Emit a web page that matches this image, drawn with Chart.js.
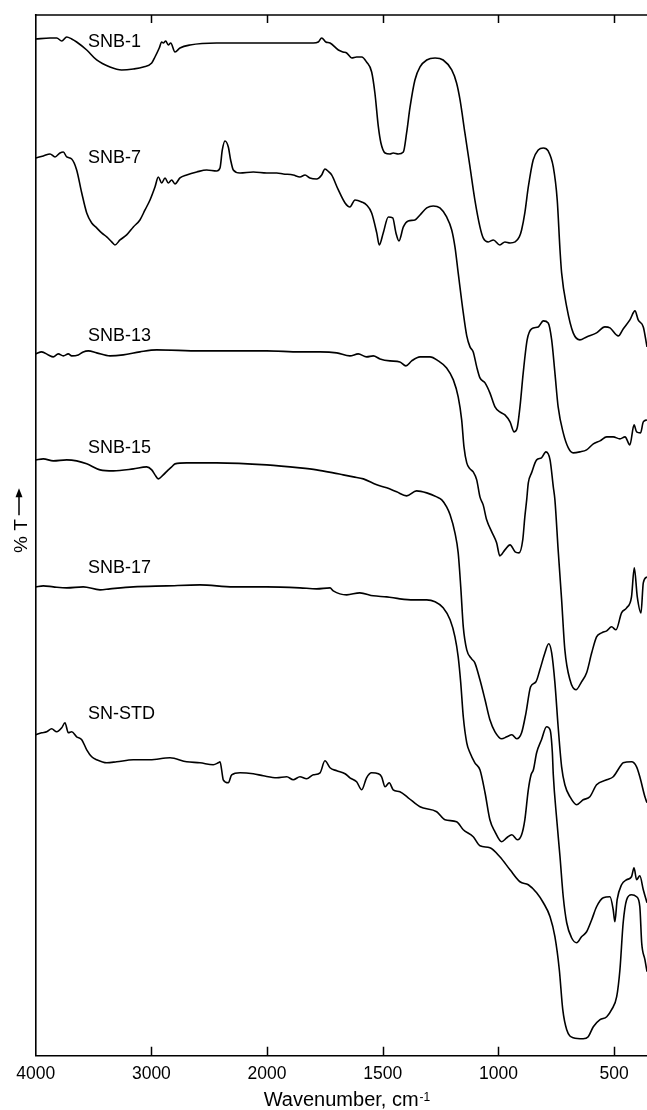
<!DOCTYPE html>
<html>
<head>
<meta charset="utf-8">
<script src="https://cdn.jsdelivr.net/npm/chart.js@4.4.0/dist/chart.umd.min.js"></script>
<style>
html,body{margin:0;padding:0;background:#fff;}
#wrap{width:647px;height:1110px;position:relative;}
</style>
</head>
<body>
<div id="wrap"><canvas id="c" width="647" height="1110"></canvas></div>
<script>
// ---- axis definition (wavenumber, cm-1; scale changes at 2000) ----
const X_START = 4000;
const X_BREAK = 2000;
const X_END = 358;
const X_TICKS = [4000, 3000, 2000, 1500, 1000, 500];
const Y_MIN = 0;
const Y_MAX = 104.1;

const SERIES_NAMES = ['SNB-1', 'SNB-7', 'SNB-13', 'SNB-15', 'SNB-17', 'SN-STD'];
const LABEL_WN = 3548;
const LABEL_T = [100.9, 89.3, 71.5, 60.3, 48.3, 33.7];

// ---- spectra (wavenumber, relative %T with vertical offsets) ----
const SNB1_WN = [4000,3876,3818,3775,3732,3689,3646,3559,3473,3358,3257,3156,3070,2997,2969,2932,2911,2897,2876,2854,2833,2796,2753,2666,2436,2003,1800,1779,1764,1746,1728,1692,1671,1656,1634,1613,1591,1570,1548,1534,1519,1508,1490,1469,1455,1433,1411,1397,1382,1361,1339,1310,1274,1239,1202,1181,1166,1145,1123,1102,1080,1066,1044,1022,994,972,950,928,910,900,886,871,850,828,806,785,763,746,734,727,705,677,648,619,576,540,518,482,461,432,410,396,374,358];
const SNB1_T = [101.7,101.8,101.8,101.5,101.9,101.7,101.4,100.6,99.6,98.9,98.6,98.7,98.9,99.3,99.9,100.8,101.4,101.3,101.5,101.1,101.3,100.4,100.8,101.1,101.3,101.3,101.3,101.4,101.8,101.4,101.3,100.6,100.4,100.3,99.8,99.9,99.9,99.4,98.4,96.3,92.9,91.3,90.3,90.2,90.3,90.2,90.4,92.3,94.9,97.6,98.9,99.6,99.8,99.6,98.6,97.3,95.6,92.3,88.9,85.6,82.9,81.8,81.4,81.6,81.1,81.4,81.3,81.4,81.9,82.6,84.3,86.9,89.6,90.6,90.8,90.5,88.9,85.6,80.6,78.3,74.9,72.3,71.6,71.9,72.3,72.9,72.8,72.0,72.7,73.6,74.5,73.6,72.9,70.9];

const SNB7_WN = [4000,3934,3876,3833,3790,3761,3732,3689,3646,3602,3559,3516,3473,3430,3386,3343,3315,3271,3214,3156,3099,3055,3012,2969,2940,2911,2882,2854,2825,2796,2753,2695,2608,2522,2436,2407,2387,2364,2335,2315,2292,2234,2119,2003,1958,1930,1887,1858,1836,1815,1786,1764,1750,1733,1721,1692,1663,1642,1620,1591,1570,1548,1526,1515,1498,1476,1457,1443,1430,1411,1390,1361,1339,1310,1282,1253,1224,1202,1188,1174,1152,1137,1123,1109,1094,1080,1058,1037,1015,994,972,950,932,919,907,893,876,857,828,806,785,770,756,742,720,698,677,648,619,590,561,532,504,475,453,432,414,403,386,374,358];
const SNB7_T = [89.8,90.0,90.2,89.9,90.3,90.4,89.9,89.7,88.6,86.3,84.3,83.3,82.8,82.3,81.9,81.4,81.1,81.6,82.1,82.9,83.6,84.6,85.6,86.9,87.9,87.3,87.8,87.3,87.6,87.2,87.8,88.1,88.4,88.6,88.5,88.8,90.6,91.5,90.9,89.6,88.6,88.3,88.4,88.3,88.3,88.2,88.1,87.9,88.1,87.8,87.7,88.1,88.7,88.4,88.1,86.6,85.3,84.9,85.6,85.4,85.1,84.3,82.3,81.1,82.3,83.9,83.8,82.3,81.5,82.9,83.5,83.6,84.1,84.8,85.0,84.8,83.9,82.6,80.9,78.3,74.3,72.0,70.9,70.4,68.9,67.8,67.3,66.3,64.9,64.4,64.1,63.4,62.4,62.8,64.9,68.3,71.6,72.7,72.9,73.5,73.3,71.6,68.3,64.9,62.3,60.8,60.3,60.4,60.6,61.2,61.5,61.9,61.9,61.7,61.9,61.1,63.1,62.4,62.3,63.4,63.6];

const SNB13_WN = [4000,3948,3891,3848,3805,3761,3718,3689,3632,3589,3545,3473,3358,3243,3099,2954,2580,2292,2003,1858,1771,1699,1642,1606,1570,1541,1512,1469,1426,1400,1375,1339,1296,1260,1224,1195,1174,1159,1149,1137,1123,1109,1094,1080,1066,1051,1029,1008,994,972,950,928,911,895,886,878,871,857,835,814,795,777,763,756,742,727,713,691,665,641,619,597,576,554,532,511,492,468,446,425,413,400,384,374,358];
const SNB13_T = [70.2,70.4,70.1,69.9,70.2,70.0,70.2,70.0,70.1,70.4,70.5,70.3,70.0,70.1,70.4,70.6,70.5,70.5,70.5,70.4,70.4,70.3,70.0,70.2,69.9,70.0,69.7,69.5,69.4,69.0,69.5,69.9,69.9,69.5,68.8,67.6,65.9,63.6,60.9,59.3,58.7,58.4,57.6,55.9,55.1,53.6,52.4,51.3,50.0,50.6,51.1,50.4,50.3,51.6,53.9,55.6,57.3,58.3,59.6,59.8,60.4,59.6,56.9,55.6,50.6,45.6,40.6,37.6,36.6,37.4,38.3,40.3,41.9,42.3,42.5,42.9,42.6,44.3,44.8,45.9,48.8,45.9,44.3,47.3,47.9];

const SNB15_WN = [4000,3934,3848,3732,3646,3559,3444,3329,3156,3041,2997,2969,2940,2897,2854,2825,2796,2695,2436,2003,1858,1786,1714,1671,1627,1584,1526,1483,1440,1397,1354,1310,1267,1245,1224,1209,1188,1174,1163,1152,1137,1116,1102,1080,1058,1037,1015,986,964,942,921,900,881,861,838,821,799,783,770,756,742,727,713,691,662,634,605,576,532,504,475,461,425,403,389,367,358];
const SNB15_T = [59.6,59.7,59.5,59.6,59.5,59.2,58.6,58.5,58.7,58.9,58.6,58.1,57.7,58.1,58.6,58.9,59.2,59.3,59.3,59.1,58.8,58.6,58.3,58.1,57.9,57.7,57.1,56.8,56.4,56.0,56.5,56.3,55.9,55.6,54.9,54.1,52.3,50.3,46.9,42.9,40.6,39.7,39.3,37.6,35.6,33.6,32.4,31.7,31.9,32.1,31.7,32.3,34.3,36.9,37.4,38.6,40.3,41.2,40.3,37.3,32.9,28.9,27.1,25.9,25.1,25.6,25.9,27.1,27.6,27.9,28.9,29.3,29.4,28.9,27.9,25.9,25.3];

const SNB17_WN = [4000,3934,3848,3732,3589,3444,3358,3156,2868,2580,2292,2003,1858,1786,1728,1714,1656,1599,1541,1483,1426,1368,1310,1274,1239,1209,1188,1174,1163,1152,1137,1123,1102,1080,1058,1037,1015,986,964,942,918,900,886,871,859,849,835,814,792,777,767,763,748,734,720,705,684,662,641,619,597,576,547,518,504,497,487,468,446,425,414,403,389,374,358];
const SNB17_T = [46.9,47.0,46.9,46.8,46.9,46.6,46.7,46.9,47.0,47.1,46.9,46.9,46.8,46.7,46.8,46.5,46.1,46.3,46.0,45.9,45.7,45.6,45.6,45.4,44.8,43.6,41.9,39.9,37.3,33.9,31.3,30.3,29.3,28.6,26.3,23.6,22.4,21.4,21.8,22.1,21.6,22.1,23.6,26.6,28.1,28.6,30.3,31.6,32.9,32.6,30.3,28.1,23.6,19.9,15.9,13.3,11.8,11.3,11.9,12.4,13.6,14.9,15.8,15.9,14.6,13.4,15.6,17.1,17.6,17.9,18.8,17.6,18.0,16.6,15.3];

const STD_WN = [4000,3948,3905,3862,3818,3775,3747,3718,3689,3646,3602,3559,3516,3473,3386,3300,3156,3012,2839,2695,2580,2465,2422,2407,2384,2379,2335,2306,2234,2119,2033,1958,1915,1887,1858,1829,1800,1771,1750,1728,1699,1663,1642,1613,1591,1570,1548,1519,1505,1490,1472,1455,1426,1390,1339,1267,1231,1181,1152,1109,1080,1037,994,950,907,871,835,806,777,756,737,722,705,677,634,612,590,561,532,511,489,475,461,446,425,403,389,381,367,358];
const STD_T = [32.1,32.3,32.4,32.7,32.4,32.8,33.3,32.3,32.4,31.9,31.6,30.6,29.9,29.6,29.3,29.4,29.6,29.6,29.8,29.4,29.3,29.1,29.3,29.4,27.9,27.6,27.3,28.1,28.3,28.2,28.0,27.8,27.9,27.6,27.9,27.7,28.1,28.3,29.5,28.8,28.5,28.2,27.8,27.4,26.6,27.8,28.3,28.2,27.9,26.9,27.3,26.6,26.4,25.8,24.9,24.4,23.6,23.4,22.6,21.9,21.0,20.8,19.9,18.6,17.4,17.1,16.3,15.3,13.9,11.9,8.6,4.6,2.6,1.8,1.7,1.9,2.9,3.6,3.9,4.6,5.9,8.6,13.3,15.6,16.1,15.9,14.9,11.3,9.6,8.4];

const SERIES_WN = [SNB1_WN, SNB7_WN, SNB13_WN, SNB15_WN, SNB17_WN, STD_WN];
const SERIES_T = [SNB1_T, SNB7_T, SNB13_T, SNB15_T, SNB17_T, STD_T];

// ---- custom scale: linear in two segments (1000 cm-1 per unit above 2000, 500 below) ----
class WavenumberScale extends Chart.LinearScale {
  _unit(v) {
    return v >= X_BREAK ? (X_START - v) / 1000 : (X_START - X_BREAK) / 1000 + (X_BREAK - v) / 500;
  }
  buildTicks() {
    return X_TICKS.map(v => ({ value: v }));
  }
  getPixelForValue(v) {
    const total = this._unit(X_END);
    return this.left + (this.right - this.left) * this._unit(v) / total;
  }
  getValueForPixel(p) {
    const total = this._unit(X_END);
    const u = (p - this.left) / (this.right - this.left) * total;
    const hi = (X_START - X_BREAK) / 1000;
    return u <= hi ? X_START - u * 1000 : X_BREAK - (u - hi) * 500;
  }
}
WavenumberScale.id = 'wavenumber';
WavenumberScale.defaults = { ticks: { callback: v => String(v) } };
Chart.register(WavenumberScale);

const FONT = '"Liberation Sans", Arial, Helvetica, sans-serif';

const decor = {
  id: 'decor',
  afterDraw(chart) {
    const { ctx, chartArea: a, scales: { x, y } } = chart;
    ctx.save();
    ctx.strokeStyle = '#000';
    ctx.lineWidth = 1.6;
    ctx.beginPath();
    ctx.moveTo(a.left - 0.8, a.top);
    ctx.lineTo(a.right, a.top);
    ctx.stroke();
    ctx.lineWidth = 1.5;
    x.ticks.forEach((t, i) => {
      const px = Math.round(x.getPixelForTick(i)) + 0.5;
      if (px <= a.left + 2) return;
      ctx.beginPath();
      ctx.moveTo(px, a.bottom);
      ctx.lineTo(px, a.bottom - 9);
      ctx.moveTo(px, a.top);
      ctx.lineTo(px, a.top + 8);
      ctx.stroke();
    });
    // series labels
    ctx.fillStyle = '#000';
    ctx.font = '18px ' + FONT;
    ctx.textAlign = 'left';
    ctx.textBaseline = 'alphabetic';
    SERIES_NAMES.forEach((n, i) => {
      ctx.fillText(n, x.getPixelForValue(LABEL_WN), y.getPixelForValue(LABEL_T[i]));
    });
    // x axis title with superscript
    const main = 'Wavenumber, cm';
    const sup = '-1';
    ctx.font = '20px ' + FONT;
    const w1 = ctx.measureText(main).width;
    ctx.font = '12px ' + FONT;
    const w2 = ctx.measureText(sup).width;
    const cx = 347;
    const x0 = cx - (w1 + w2 + 1) / 2;
    ctx.font = '20px ' + FONT;
    ctx.fillText(main, x0, 1106);
    ctx.font = '12px ' + FONT;
    ctx.fillText(sup, x0 + w1 + 1, 1101);
    // y axis title: "% T" with arrow, rotated
    ctx.translate(27, 553);
    ctx.rotate(-Math.PI / 2);
    ctx.font = '19px ' + FONT;
    ctx.fillText('% T', 0, 0);
    const tw = ctx.measureText('% T').width;
    ctx.lineWidth = 1.5;
    ctx.beginPath();
    ctx.moveTo(tw + 4, -8);
    ctx.lineTo(tw + 24, -8);
    ctx.stroke();
    ctx.beginPath();
    ctx.moveTo(tw + 31, -8);
    ctx.lineTo(tw + 22, -11.5);
    ctx.lineTo(tw + 22, -4.5);
    ctx.closePath();
    ctx.fill();
    ctx.restore();
  }
};

const datasets = SERIES_NAMES.map((name, i) => ({
  label: name,
  data: SERIES_WN[i].map((wn, j) => ({ x: wn, y: SERIES_T[i][j] })),
  borderColor: '#000',
  borderWidth: 1.6,
  pointRadius: 0,
  fill: false,
  cubicInterpolationMode: 'monotone'
}));

new Chart(document.getElementById('c'), {
  type: 'line',
  data: { datasets },
  plugins: [decor],
  options: {
    responsive: false,
    animation: false,
    devicePixelRatio: 1,
    events: [],
    layout: { padding: { top: 15, right: 0, bottom: 0, left: 0 } },
    plugins: { legend: { display: false }, tooltip: { enabled: false } },
    scales: {
      x: {
        type: 'wavenumber',
        min: X_END,
        max: X_START,
        position: 'bottom',
        grid: { display: false, drawTicks: false },
        border: { display: true, color: '#000', width: 1.6 },
        ticks: {
          autoSkip: false,
          maxRotation: 0,
          color: '#000',
          padding: 8,
          font: { family: FONT, size: 17.5 }
        },
        afterFit(s) { s.height = 54.3; }
      },
      y: {
        type: 'linear',
        min: Y_MIN,
        max: Y_MAX,
        grid: { display: false, drawTicks: false },
        border: { display: true, color: '#000', width: 1.6 },
        ticks: { display: false },
        afterFit(s) { s.width = 35.7; }
      }
    }
  }
});
</script>
</body>
</html>
